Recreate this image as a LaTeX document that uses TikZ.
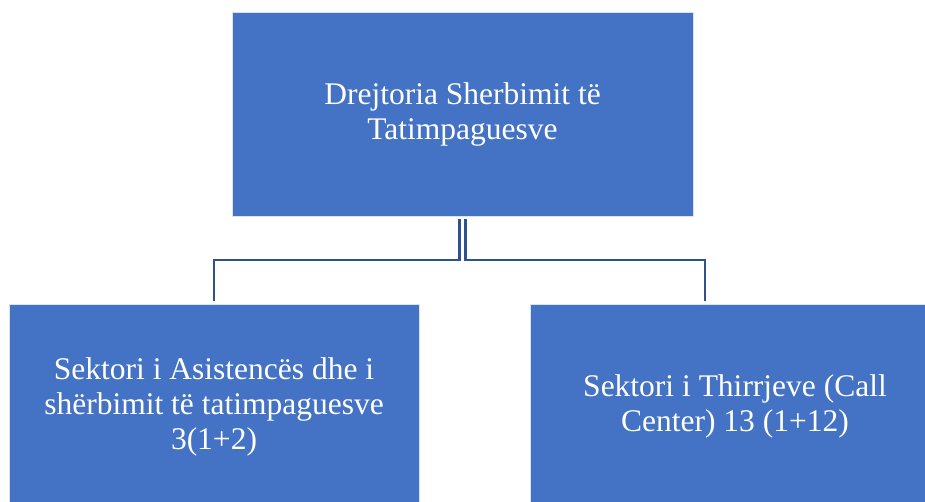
\documentclass[tikz,border=0pt]{standalone}
\usepackage{fontspec}
\setmainfont{Liberation Serif}
\usetikzlibrary{positioning}

\definecolor{boxblue}{HTML}{4472C4}
\definecolor{linkblue}{HTML}{2F528F}

\begin{document}
\begin{tikzpicture}[
    node distance=88pt,
    unit/.style={rectangle, fill=boxblue, draw=white!80!boxblue, line width=0.6pt, text=white, align=center, font=\fontsize{31.5}{35}\selectfont},
    top/.style={unit, minimum width=461pt, minimum height=204pt},
    sector/.style={unit, minimum width=410pt, minimum height=204pt},
    link/.style={linkblue, line width=2.4pt}
]
\useasboundingbox (0pt,0pt) rectangle (925pt,-502pt);

% Directorate
\node[top] (dir) at (462.5pt,-114pt) {Drejtoria Sherbimit të\\Tatimpaguesve};

% Sectors
\node[sector, below=of dir, xshift=-248.5pt] (asist) {Sektori i Asistencës dhe i\\shërbimit të tatimpaguesve\\3(1+2)};
\node[sector, below=of dir, xshift=272.5pt] (call) {Sektori i Thirrjeve (Call\\Center) 13 (1+12)};

% Connectors
\draw[link] ([xshift=-3pt,yshift=-3pt]dir.south) |- ++(-3pt,-41pt) -| ([yshift=3pt]asist.north);
\draw[link] ([xshift=3pt,yshift=-3pt]dir.south) |- ++(3pt,-41pt) -| ([xshift=175pt,yshift=3pt]call.north west);

\end{tikzpicture}
\end{document}
